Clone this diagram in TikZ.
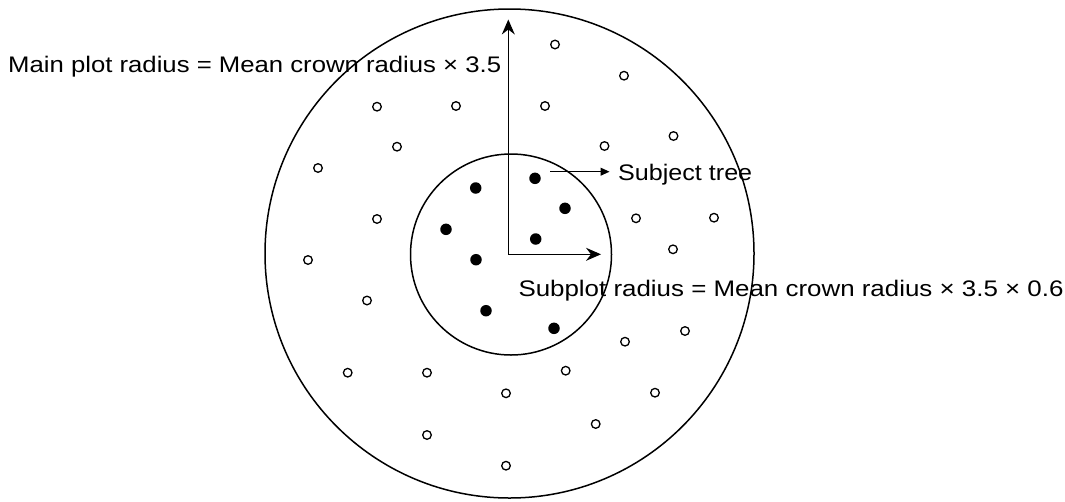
\documentclass[tikz,border=0pt]{standalone}
\usepackage{graphicx}
\usepackage{fontspec}
\setmainfont{Liberation Sans}
\usetikzlibrary{arrows.meta}
\begin{document}
\begin{tikzpicture}[x=1pt,y=-1pt,
  open/.style={circle,draw,line width=1.3pt,minimum size=8.6pt,inner sep=0pt},
  tree/.style={circle,fill,minimum size=11.5pt,inner sep=0pt},
  plot/.style={circle,draw,line width=1.5pt,inner sep=0pt},
  lbl/.style={anchor=base west,inner sep=0pt,font=\fontsize{22.5}{27}\selectfont},
  radarrow/.style={line width=1.1pt,-{Stealth[length=15pt,width=13pt,inset=5pt]}},
  treearrow/.style={line width=1pt,-{Triangle[length=9pt,width=8pt]}}]
\useasboundingbox (0,0) rectangle (1065,501);
% plots
\node[plot,minimum size=489pt] (main) at (509.5,253.5) {};
\node[plot,minimum size=201pt] (sub) at (511,254.5) {};
% open circles (other trees)
\foreach \x/\y [count=\i] in {555/44.5,624/75.7,377/106.7,456/106,545/106,397/146.7,673.5/136,604.5/146,
  318/168,377/219,308/260,367/300.5,636/218.3,714/217.7,673/249.3,
  685/331,625/341.7,565.7/370.7,347.7/372.7,427/372.7,506/393.3,655/392.7,595.7/424,427/435,506/465.7}
  \node[open] (o\i) at (\x,\y) {};
% filled circles (subplot trees)
\node[tree] (t1) at (475.7,188) {};
\node[tree] (t2) at (446,229.3) {};
\node[tree] (t3) at (476,259.7) {};
\node[tree] (t4) at (486,310.7) {};
\node[tree] (subject) at (535,178.3) {};
\node[tree] (t6) at (565,208.3) {};
\node[tree] (t7) at (535.7,239) {};
\node[tree] (t8) at (554,328.3) {};
% radius arrows
\coordinate (O) at (508.3,254.3);
\coordinate (top) at (508.3,19.5);
\coordinate (right) at (601,254.3);
\draw[radarrow] (O) -- (top);
\draw[radarrow] (O) -- (right);
% labels
\node[lbl] (mainlbl) at (8,72.7) {\resizebox{493pt}{\height}{Main plot radius = Mean crown radius × 3.5}};
\node[lbl] (subj) at (618,180) {\resizebox{134pt}{\height}{Subject tree}};
\node[lbl] (sublbl) at (518.3,296.5) {\resizebox{545pt}{\height}{Subplot radius = Mean crown radius × 3.5 × 0.6}};
% subject tree pointer
\coordinate (sa) at (550,171.7);
\draw[treearrow,shorten >=8.5pt] (sa) -- (sa -| subj.west);
\end{tikzpicture}
\end{document}
